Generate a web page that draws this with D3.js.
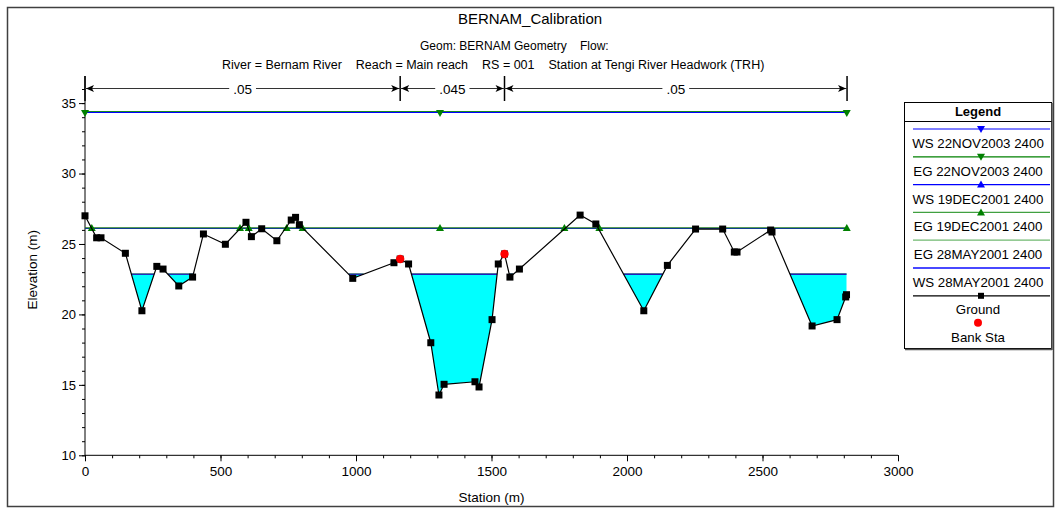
<!DOCTYPE html>
<html><head><meta charset="utf-8">
<script src="https://cdn.jsdelivr.net/npm/d3@7"></script>
<style>
body{margin:0;background:#fff;}
svg{display:block;}
text{font-family:"Liberation Sans",Arial,sans-serif;fill:#000;}
</style>
</head><body>
<svg id="c" width="1056" height="509"></svg>
<script>
// ---------------- data ----------------
const groundStation = [0, 43, 59, 149, 210, 265, 288, 346, 397, 437, 518, 594, 614, 652, 708, 761, 777, 791, 988, 1140, 1163, 1194, 1276, 1306, 1325, 1439, 1454, 1502, 1525, 1548, 1568, 1603, 1827, 1885, 2062, 2149, 2253, 2353, 2396, 2406, 2530, 2535, 2683, 2775, 2807, 2810];
const groundElev    = [27.0, 25.44, 25.44, 24.34, 20.26, 23.41, 23.22, 22.02, 22.65, 25.71, 24.98, 26.54, 25.52, 26.08, 25.23, 26.70, 26.89, 26.37, 22.56, 23.67, 23.93, 23.58, 17.99, 14.28, 15.04, 15.22, 14.85, 19.63, 23.58, 24.29, 22.65, 23.22, 27.05, 26.42, 20.26, 23.48, 26.06, 26.06, 24.43, 24.43, 25.99, 25.85, 19.18, 19.63, 21.24, 21.40];
const bankStation = [1163, 1548];
const bankElev = [23.93, 24.29];

const profileNames = ["WS 22NOV2003 2400", "EG 22NOV2003 2400", "WS 19DEC2001 2400", "EG 19DEC2001 2400", "EG 28MAY2001 2400", "WS 28MAY2001 2400"];
const profileElev  = [34.335, 34.405, 26.10, 26.14, 22.88, 22.85];
const markerStations22NOV = [0, 1310, 2811];
const markerStations19DEC = [25, 572, 604, 744, 803, 1310, 1769, 1898, 2811];

const nBreaks = [0, 1163, 1548, 2812];
const nValues = [".05", ".045", ".05"];

const xTicks = [0, 500, 1000, 1500, 2000, 2500, 3000];
const yTicks = [10, 15, 20, 25, 30, 35];

const titleText = "BERNAM_Calibration";
const subTitle1 = ["Geom: BERNAM Geometry", "Flow:"];
const subTitle2 = ["River = Bernam River", "Reach = Main reach", "RS = 001", "Station at Tengi River Headwork (TRH)"];

// ---------------- drawing ----------------
const svg = d3.select("#c");
const x = d3.scaleLinear().domain([0, 3000]).range([85, 898]);
const y = d3.scaleLinear().domain([10, 35]).range([455.3, 103.1]);
const plotTop = 76;
const BLUE = "#0000ff", GREEN = "#008000";

// outer frame
svg.append("rect").attr("x", 7.5).attr("y", 7.5).attr("width", 1046).attr("height", 499)
  .attr("fill", "none").attr("stroke", "#404040").attr("stroke-width", 1.5);

// titles
svg.append("text").attr("x", 530).attr("y", 24).attr("text-anchor", "middle").attr("font-size", 15).text(titleText);
svg.append("text").attr("x", 420).attr("y", 50).attr("font-size", 12).text(subTitle1[0]);
svg.append("text").attr("x", 580).attr("y", 50).attr("font-size", 12).text(subTitle1[1]);
{
  let cx = 222;
  subTitle2.forEach(t => {
    const el = svg.append("text").attr("x", cx).attr("y", 69).attr("font-size", 12.5).text(t);
    cx += el.node().getComputedTextLength() + 14;
  });
}

// axes
const gx = svg.append("g").attr("transform", `translate(0,${y(10)})`);
gx.call(d3.axisBottom(x).tickValues(d3.range(0, 3001, 100)).tickSize(3).tickFormat(""));
gx.select(".domain").remove();
const gx2 = svg.append("g").attr("transform", `translate(0,${y(10)})`);
gx2.call(d3.axisBottom(x).tickValues(xTicks).tickSize(6).tickPadding(5).tickFormat(d3.format("d")));
gx2.select(".domain").remove();
gx2.selectAll("text").attr("font-size", 13.5).attr("font-family", "Liberation Sans, Arial, sans-serif");
svg.append("line").attr("x1", x(0)).attr("x2", x(3000)).attr("y1", y(10)).attr("y2", y(10)).attr("stroke", "#000");

const gy = svg.append("g").attr("transform", `translate(${x(0)},0)`);
gy.call(d3.axisLeft(y).tickValues(d3.range(10, 37, 1)).tickSize(3).tickFormat(""));
gy.select(".domain").remove();
const gy2 = svg.append("g").attr("transform", `translate(${x(0)},0)`);
gy2.call(d3.axisLeft(y).tickValues(yTicks).tickSize(6).tickPadding(3));
gy2.select(".domain").remove();
gy2.selectAll("text").attr("font-size", 13).attr("font-family", "Liberation Sans, Arial, sans-serif");
svg.append("line").attr("x1", x(0)).attr("x2", x(0)).attr("y1", y(10)).attr("y2", plotTop).attr("stroke", "#000");

svg.append("text").attr("x", (x(0) + x(3000)) / 2).attr("y", 502).attr("text-anchor", "middle").attr("font-size", 13.5).text("Station (m)");
svg.append("text").attr("transform", `translate(37,${(y(10) + plotTop) / 2 + 4}) rotate(-90)`).attr("text-anchor", "middle").attr("font-size", 13.5).text("Elevation (m)");

// Manning's n annotation
const nY = 88.5;
nBreaks.forEach(s => {
  svg.append("line").attr("x1", x(s)).attr("x2", x(s)).attr("y1", plotTop).attr("y2", 101).attr("stroke", "#000").attr("stroke-width", 1.5);
});
const arrow = (xt, dir) => {
  svg.append("path").attr("d", `M${xt},${nY} L${xt - dir * 8},${nY - 3.5} L${xt - dir * 6},${nY} L${xt - dir * 8},${nY + 3.5} Z`).attr("fill", "#000");
};
nValues.forEach((v, i) => {
  const a = x(nBreaks[i]), b = x(nBreaks[i + 1]);
  svg.append("line").attr("x1", a).attr("x2", b).attr("y1", nY).attr("y2", nY).attr("stroke", "#333").attr("stroke-width", 1.2);
  arrow(a + 1, -1); arrow(b - 1, 1);
  const t = svg.append("text").attr("x", (a + b) / 2).attr("y", nY + 5).attr("text-anchor", "middle").attr("font-size", 13.5).text(v);
  const bb = t.node().getBBox();
  svg.insert("rect", () => t.node()).attr("x", bb.x - 4).attr("y", bb.y).attr("width", bb.width + 8).attr("height", bb.height).attr("fill", "#fff");
});

// water fill for lowest profile
function waterSegments(st, el, L) {
  const segs = []; let cur = null;
  for (let i = 0; i < st.length; i++) {
    const below = el[i] < L;
    if (i > 0) {
      const pb = el[i - 1] < L;
      if (pb !== below) {
        const t = (L - el[i - 1]) / (el[i] - el[i - 1]);
        const xc = st[i - 1] + t * (st[i] - st[i - 1]);
        if (below) cur = [[xc, L]]; else { cur.push([xc, L]); segs.push(cur); cur = null; }
      }
    } else if (below) cur = [[st[0], L]];
    if (below) cur.push([st[i], el[i]]);
  }
  if (cur) { cur.push([st[st.length - 1], L]); segs.push(cur); }
  return segs;
}
const wsLow = profileElev[5];
const segs = waterSegments(groundStation, groundElev, wsLow);
const lineGen = d3.line().x(d => x(d[0])).y(d => y(d[1]));
segs.forEach(s => {
  svg.append("path").attr("d", lineGen(s) + "Z").attr("fill", "#00ffff").attr("stroke", "none");
});
segs.forEach(s => {
  const a = s[0][0], b = s[s.length - 1][0];
  svg.append("path").attr("d", lineGen([[a, profileElev[4]], [b, profileElev[4]]])).attr("stroke", "#40a040").attr("stroke-width", 1).attr("fill", "none");
  svg.append("path").attr("d", lineGen([[a, wsLow], [b, wsLow]])).attr("stroke", "#2020c0").attr("stroke-width", 1.3).attr("fill", "none");
});

// full-width profiles
const s0 = groundStation[0], s1 = groundStation[groundStation.length - 1] + 1;
svg.append("path").attr("d", lineGen([[s0, profileElev[0]], [s1, profileElev[0]]])).attr("stroke", BLUE).attr("stroke-width", 1).attr("fill", "none").attr("shape-rendering", "crispEdges");
svg.append("path").attr("d", lineGen([[s0, profileElev[1]], [s1, profileElev[1]]])).attr("stroke", "#1a8a1a").attr("stroke-width", 1).attr("fill", "none").attr("shape-rendering", "crispEdges");
svg.append("path").attr("d", lineGen([[s0, profileElev[2]], [s1, profileElev[2]]])).attr("stroke", BLUE).attr("stroke-width", 1.1).attr("fill", "none");
svg.append("path").attr("d", lineGen([[s0, profileElev[3]], [s1, profileElev[3]]])).attr("stroke", "#1f7a1f").attr("stroke-width", 1.2).attr("fill", "none");

const tri = (cx, cy, up, color, g) => {
  const w = 4, h = 6;
  const d = up ? `M${cx},${cy - h / 2 - 1} L${cx + w},${cy + h / 2} L${cx - w},${cy + h / 2} Z`
               : `M${cx},${cy + h / 2 + 1} L${cx + w},${cy - h / 2} L${cx - w},${cy - h / 2} Z`;
  (g || svg).append("path").attr("d", d).attr("fill", color);
};
markerStations22NOV.forEach(s => tri(x(s), y(profileElev[1]) + 1.5, false, GREEN));
markerStations19DEC.forEach(s => tri(x(s), y(profileElev[3]), true, GREEN));

// ground
const gpts = groundStation.map((s, i) => [s, groundElev[i]]);
svg.append("path").attr("d", lineGen(gpts)).attr("stroke", "#000").attr("stroke-width", 1.2).attr("fill", "none");
svg.selectAll(".gm").data(gpts).enter().append("rect").attr("class", "gm")
  .attr("x", d => x(d[0]) - 3.5).attr("y", d => y(d[1]) - 3.5).attr("width", 7).attr("height", 7).attr("fill", "#000");
svg.selectAll(".bk").data(bankStation).enter().append("circle").attr("class", "bk")
  .attr("cx", d => x(d)).attr("cy", (d, i) => y(bankElev[i])).attr("r", 4.2).attr("fill", "#ff0000");

// legend
const L = svg.append("g");
L.append("rect").attr("x", 904.5).attr("y", 102.5).attr("width", 147).attr("height", 246).attr("fill", "#fff").attr("stroke", "#000");
L.append("line").attr("x1", 1052).attr("x2", 1052).attr("y1", 103).attr("y2", 350).attr("stroke", "#555").attr("stroke-width", 1.5);
L.append("line").attr("x1", 905).attr("x2", 1052).attr("y1", 349.5).attr("y2", 349.5).attr("stroke", "#555").attr("stroke-width", 1.5);
L.append("line").attr("x1", 904.5).attr("x2", 1051.5).attr("y1", 121.5).attr("y2", 121.5).attr("stroke", "#000");
L.append("text").attr("x", 978).attr("y", 116).attr("text-anchor", "middle").attr("font-size", 13).attr("font-weight", "bold").text("Legend");
const legColors = [BLUE, GREEN, BLUE, "#40a040", "#70b870", "#4848ff"];
const legWidth = [1.2, 1.2, 1.2, 1.2, 1.2, 2];
const lx1 = 913, lx2 = 1050, lcx = 981;
profileNames.forEach((n, i) => {
  const ly = 129 + i * 27.8;
  L.append("line").attr("x1", lx1).attr("x2", lx2).attr("y1", ly).attr("y2", ly).attr("stroke", legColors[i]).attr("stroke-width", legWidth[i]);
  if (i < 4) tri(lcx, ly, i >= 2, legColors[i] === "#40a040" ? GREEN : legColors[i], L);
  L.append("text").attr("x", 978).attr("y", ly + 19).attr("text-anchor", "middle").attr("font-size", 13.3).text(n);
});
const gy0 = 129 + 6 * 27.8;
L.append("line").attr("x1", lx1).attr("x2", lx2).attr("y1", gy0).attr("y2", gy0).attr("stroke", "#000").attr("stroke-width", 1.2);
L.append("rect").attr("x", lcx - 3).attr("y", gy0 - 3).attr("width", 6).attr("height", 6).attr("fill", "#000");
L.append("text").attr("x", 978).attr("y", gy0 + 18).attr("text-anchor", "middle").attr("font-size", 13.3).text("Ground");
L.append("circle").attr("cx", 978).attr("cy", gy0 + 27).attr("r", 4).attr("fill", "#ff0000");
L.append("text").attr("x", 978).attr("y", gy0 + 46).attr("text-anchor", "middle").attr("font-size", 13.3).text("Bank Sta");
</script>
</body></html>
